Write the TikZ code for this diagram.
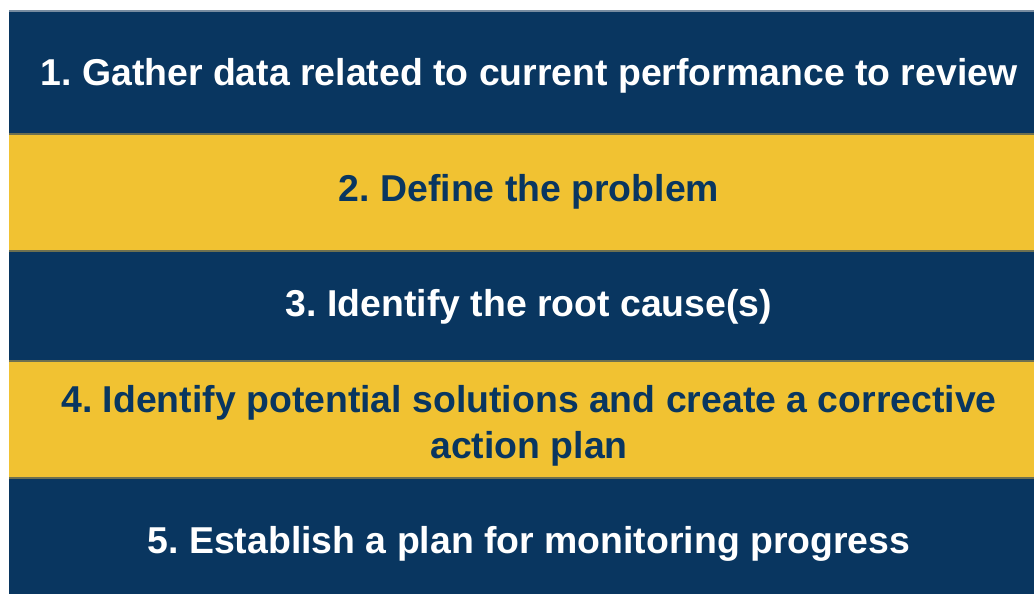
\documentclass[tikz,border=0pt]{standalone}
\usepackage{fontspec}
\setmainfont{Liberation Sans}
\usepackage{tikz}
\usepackage{xcolor}
\usetikzlibrary{positioning}
\frenchspacing
\definecolor{stepnavy}{RGB}{9, 54, 96}
\definecolor{stepgold}{RGB}{241, 194, 50}
\definecolor{stepseam}{RGB}{110, 112, 80}
\definecolor{stepedge}{RGB}{120, 140, 160}
\tikzset{
    band/.style={rectangle, minimum width=1040pt, inner sep=0pt, outer sep=0pt},
    navyband/.style={band, fill=stepnavy},
    goldband/.style={band, fill=stepgold},
    steptext/.style={inner sep=0pt, align=center, font=\bfseries\fontsize{37.4}{46.5}\selectfont},
    onelinetext/.style={steptext, text height=27pt, text depth=8pt},
    whitetext/.style={onelinetext, text=white},
    navytext/.style={onelinetext, text=stepnavy},
    seam/.style={draw=stepseam, line width=1.5pt},
    topedge/.style={draw=stepedge, line width=1.5pt}
}
\begin{document}
\begin{tikzpicture}[x=1pt, y=1pt]
    \useasboundingbox[fill=white] (0,0) rectangle (1034,-594);
    \node[navyband, minimum height=123pt, anchor=north west] (band1) at (9,-11) {};
    \node[goldband, minimum height=117pt, below=0pt of band1] (band2) {};
    \node[navyband, minimum height=110pt, below=0pt of band2] (band3) {};
    \node[goldband, minimum height=117pt, below=0pt of band3] (band4) {};
    \node[navyband, minimum height=116pt, below=0pt of band4] (band5) {};
    \draw[topedge] (band1.north west) -- (band1.north east);
    \foreach \n in {1,...,4}
        \draw[seam] (band\n.south west) -- (band\n.south east);
    \node[whitetext, yshift=-3.5pt] (text1) at (band1.center)
        {1. Gather data related to current performance to review};
    \node[navytext, yshift=0.3pt] (text2) at (band2.center)
        {2. Define the problem};
    \node[whitetext, yshift=-1.2pt] (text3) at (band3.center)
        {3. Identify the root cause(s)};
    \node[steptext, text=stepnavy, yshift=-6.5pt] (text4) at (band4.center)
        {4. Identify potential solutions and create a corrective\\action plan};
    \node[whitetext, yshift=-7.5pt] (text5) at (band5.center)
        {5. Establish a plan for monitoring progress};
\end{tikzpicture}
\end{document}
